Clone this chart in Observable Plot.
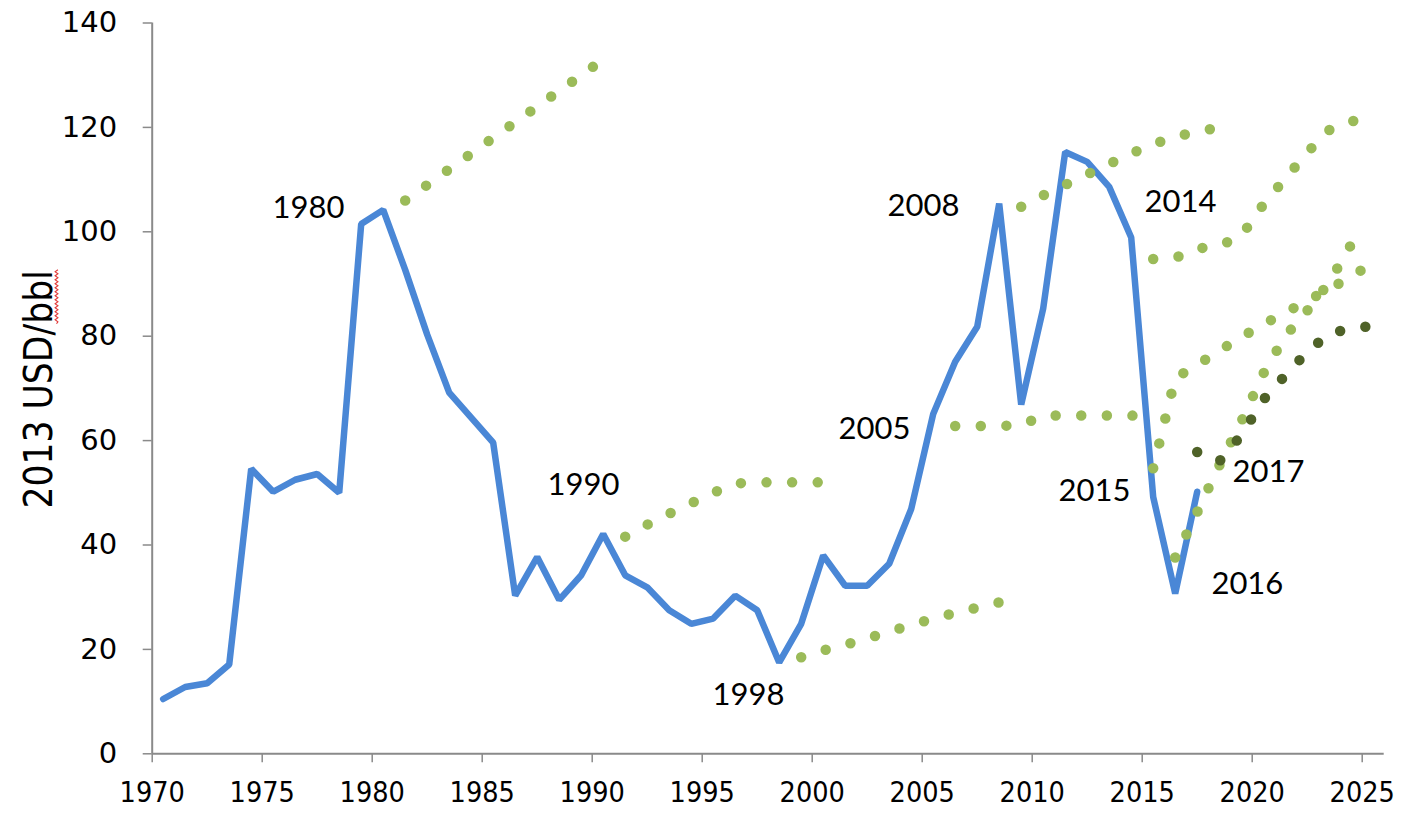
<!DOCTYPE html>
<html>
<head>
<meta charset="utf-8">
<script src="https://cdn.jsdelivr.net/npm/d3@7"></script>
<script src="https://cdn.jsdelivr.net/npm/@observablehq/plot@0.6"></script>
<style>
  html, body { margin: 0; padding: 0; background: #ffffff; }
  #chart svg { display: block; }
</style>
</head>
<body>
<div id="chart"></div>
<script>
// ---------- DATA ----------
// Historic oil price, 2013 USD/bbl (annual values, 1970–2017)
const histYears = d3.range(1970, 2018);
const histPrice = [10.5, 12.8, 13.5, 17.1, 54.6, 50.2, 52.5, 53.6, 50.0, 101.5,
                   104.2, 92.7, 80.3, 69.2, 64.4, 59.6, 30.3, 37.7, 29.5, 34.2,
                   42.1, 34.2, 31.9, 27.5, 24.9, 25.9, 30.3, 27.5, 17.5, 24.9,
                   38.0, 32.2, 32.2, 36.4, 46.9, 65.1, 75.1, 81.8, 105.4, 66.9,
                   85.3, 115.3, 113.4, 108.6, 98.9, 49.2, 30.7, 50.2];

// Forecasts made in a given year (first forecast year, yearly values)
const fc1980Start = 1981, fc1980 = [106, 109, 112, 115, 118, 121, 124, 127, 130, 133];
const fc1990Start = 1991, fc1990 = [41.6, 43.9, 46.0, 48.0, 50.0, 51.8, 52.0, 52.0, 52.0, 52.0];
const fc1998Start = 1999, fc1998 = [18.5, 19.8, 20.9, 22.1, 23.4, 24.7, 25.9, 27.0, 28.0, 29.0];
const fc2005Start = 2006, fc2005 = [62.8, 62.8, 62.8, 63.0, 64.8, 64.8, 64.8, 64.8, 64.8, 64.6];
const fc2008Start = 2009, fc2008 = [104.8, 107.0, 109.0, 111.0, 113.0, 115.0, 116.8, 118.2, 119.2, 120.0];
const fc2014Start = 2015, fc2014 = [94.8, 95.0, 96.8, 97.3, 99.2, 105.2, 110.2, 115.2, 119.5, 121.2, 121.4];
const fc2015Start = 2015, fc2015 = [54.7, 72.0, 74.5, 77.2, 79.8, 82.3, 84.5, 86.8, 89.0, 91.5, 94.0];
const fc2016Start = 2016, fc2016 = [37.6, 46.3, 55.2, 63.6, 72.8, 80.0, 84.9, 90.3, 97.6];
const fc2017Start = 2017, fc2017 = [57.8, 56.0, 61.0, 67.8, 72.5, 77.0, 80.5, 81.5, 82.0];

// Axis ticks and labels
const xTicks = d3.range(1970, 2026, 5);
const yTicks = d3.range(0, 141, 20);
const yTitle = "2013 USD/bbl";

// Annotation labels (forecast vintage) anchored in data units
const noteText = ["1980", "1990", "1998", "2005", "2008", "2014", "2015", "2016", "2017"];
const noteYear = [1977.1, 1989.6, 1997.1, 2002.83, 2005.06, 2016.74, 2012.83, 2019.78, 2020.74];
const noteValue = [104.5, 51.4, 11.2, 62.3, 105.0, 105.6, 50.4, 32.6, 53.9];

// ---------- TABLES ----------
// Annual values are drawn at mid-year, as on the original date axis.
const hist = histYears.map((year, i) => ({year, value: histPrice[i]}));
const series = (name, start, values) => values.map((value, i) => ({name, year: start + i, value}));
const lightForecasts = [
  ...series("1980", fc1980Start, fc1980),
  ...series("1990", fc1990Start, fc1990),
  ...series("1998", fc1998Start, fc1998),
  ...series("2005", fc2005Start, fc2005),
  ...series("2008", fc2008Start, fc2008),
  ...series("2014", fc2014Start, fc2014),
  ...series("2015", fc2015Start, fc2015),
  ...series("2016", fc2016Start, fc2016)
];
const darkForecast = series("2017", fc2017Start, fc2017);
const notes = noteText.map((text, i) => ({text, x: noteYear[i], y: noteValue[i]}));

const midYear = d => d.year + 0.5;
const axisGray = "#8a8a8a";

const chart = Plot.plot({
  width: 1420,
  height: 815,
  marginLeft: 151.7,
  marginRight: 36.3,
  marginTop: 22.5,
  marginBottom: 61.7,
  style: {background: "#ffffff", color: "#000000"},
  x: {domain: [1970, 2026]},
  y: {domain: [0, 140]},
  marks: [
    Plot.axisX({
      ticks: xTicks, tickFormat: d => String(d), tickSize: 9, tickPadding: 19,
      stroke: axisGray, strokeWidth: 1.5, fill: "#000000",
      fontSize: 28.5, fontFamily: "'DejaVu Sans Condensed', 'DejaVu Sans', sans-serif",
      label: null
    }),
    Plot.axisY({
      ticks: yTicks, tickFormat: d => String(d), tickSize: 9, tickPadding: 26,
      stroke: axisGray, strokeWidth: 1.5, fill: "#000000",
      fontSize: 29, fontFamily: "'DejaVu Sans', sans-serif",
      label: null
    }),
    Plot.ruleY([0], {stroke: axisGray, strokeWidth: 2}),
    Plot.ruleX([1970], {stroke: axisGray, strokeWidth: 2}),
    Plot.text([yTitle], {
      frameAnchor: "left", textAnchor: "middle", rotate: -90, dx: -113, dy: 1,
      fontSize: 38.5, fontFamily: "'DejaVu Sans Condensed', 'DejaVu Sans', sans-serif",
      fill: "#000000", className: "ytitle"
    }),
    Plot.line(hist, {
      x: midYear, y: "value", stroke: "#4a87d6", strokeWidth: 6.5,
      strokeLinejoin: "miter", curve: "linear"
    }),
    Plot.line(lightForecasts, {
      x: midYear, y: "value", z: "name", stroke: "#9bbb59",
      strokeWidth: 10.5, strokeLinecap: "round", strokeDasharray: "0 25.6"
    }),
    Plot.line(darkForecast, {
      x: midYear, y: "value", stroke: "#4f6228",
      strokeWidth: 10.5, strokeLinecap: "round", strokeDasharray: "0 25.6"
    }),
    Plot.text(notes, {
      x: "x", y: "y", text: "text", fontSize: 31,
      fontFamily: "Lato, 'Open Sans', sans-serif", fill: "#000000"
    })
  ]
});

document.getElementById("chart").appendChild(chart);

// Spell-check style squiggle under "bbl" in the axis title (as in the original screenshot)
try {
  const t = chart.querySelector(".ytitle text");
  if (t) {
    const n = t.getNumberOfChars();
    const i0 = yTitle.indexOf("bbl");
    const p0 = t.getStartPositionOfChar(i0);
    const p1 = t.getEndPositionOfChar(n - 1);
    const y = p0.y + 5;
    let d = `M${p0.x},${y}`;
    for (let x = p0.x, k = 0; x < p1.x; x += 2, k++) d += `L${x + 2},${y + (k % 2 ? -1.4 : 1.4)}`;
    d3.select(t.parentNode).append("path")
      .attr("d", d)
      .attr("transform", t.getAttribute("transform"))
      .attr("fill", "none").attr("stroke", "#e23b3b").attr("stroke-width", 1.1);
  }
} catch (e) {}
</script>
</body>
</html>
